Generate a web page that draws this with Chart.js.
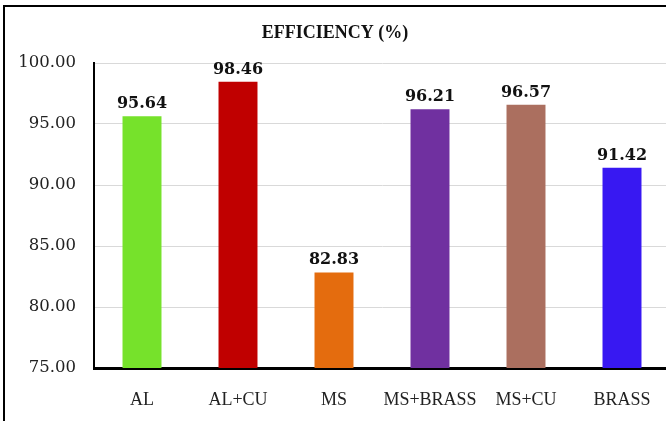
<!DOCTYPE html>
<html>
<head>
<meta charset="utf-8">
<script src="https://cdn.jsdelivr.net/npm/chart.js@4/dist/chart.umd.min.js"></script>
<style>
  html, body { margin: 0; padding: 0; background: #fff; overflow: hidden; }
  #wrap { position: relative; width: 666px; height: 421px; overflow: hidden; }
  #frame { position: absolute; left: 3px; top: 5px; width: 700px; height: 430px;
           border-left: 2px solid #000; border-top: 2px solid #000; pointer-events: none; }
  #box { position: absolute; left: 0; top: 0; width: 676px; height: 421px; }
</style>
</head>
<body>
<div id="wrap">
  <div id="box"><canvas id="chart"></canvas></div>
  <div id="frame"></div>
</div>
<script>
const CATEGORIES = ["AL", "AL+CU", "MS", "MS+BRASS", "MS+CU", "BRASS"];
const EFFICIENCY = [95.64, 98.46, 82.83, 96.21, 96.57, 91.42];
const BAR_COLORS = ["#76E22B", "#C00000", "#E46C0E", "#7030A0", "#AB6F5F", "#3818F2"];
const Y_MIN = 75;
const Y_MAX = 100;
const Y_STEP = 5;

// value labels above each bar, positioned from the bar elements
const valueLabels = {
  id: "valueLabels",
  afterDatasetsDraw(chart) {
    const ctx = chart.ctx;
    const meta = chart.getDatasetMeta(0);
    ctx.save();
    ctx.font = "bold 16px 'DejaVu Serif'";
    ctx.fillStyle = "#111";
    ctx.textAlign = "center";
    ctx.textBaseline = "alphabetic";
    meta.data.forEach((bar, i) => {
      ctx.fillText(EFFICIENCY[i].toFixed(2), bar.x, bar.y - 8);
    });
    ctx.restore();
  },
};

new Chart(document.getElementById("chart"), {
  type: "bar",
  data: {
    labels: CATEGORIES,
    datasets: [{
      data: EFFICIENCY,
      backgroundColor: BAR_COLORS,
      borderWidth: 0,
      categoryPercentage: 1,
      barPercentage: 0.406,
    }],
  },
  options: {
    responsive: true,
    maintainAspectRatio: false,
    animation: false,
    layout: { padding: { top: 0, right: 6, bottom: 0, left: 0 } },
    plugins: {
      legend: { display: false },
      tooltip: { enabled: false },
      title: {
        display: true,
        text: "EFFICIENCY (%)",
        color: "#111",
        font: { family: "'Liberation Serif'", size: 18, weight: "bold", lineHeight: 1.2 },
        padding: { top: 23, bottom: 18.4 },
      },
    },
    scales: {
      x: {
        grid: { display: false, drawTicks: false },
        border: { display: true, color: "#000", width: 3 },
        ticks: {
          color: "#222",
          padding: 21,
          maxRotation: 0,
          minRotation: 0,
          autoSkip: false,
          font: { family: "'Liberation Serif'", size: 18 },
        },
        afterFit(scale) { scale.height = 53; },
      },
      y: {
        min: Y_MIN,
        max: Y_MAX,
        grid: { color: "#D9D9D9", lineWidth: 1, drawTicks: false },
        border: { display: true, color: "#000", width: 2 },
        ticks: {
          stepSize: Y_STEP,
          color: "#222",
          padding: 18,
          font: { family: "'DejaVu Serif'", size: 16.5 },
          callback: (v) => Number(v).toFixed(2),
        },
        afterFit(scale) { scale.width = 94; },
      },
    },
  },
  plugins: [valueLabels],
});
</script>
</body>
</html>
